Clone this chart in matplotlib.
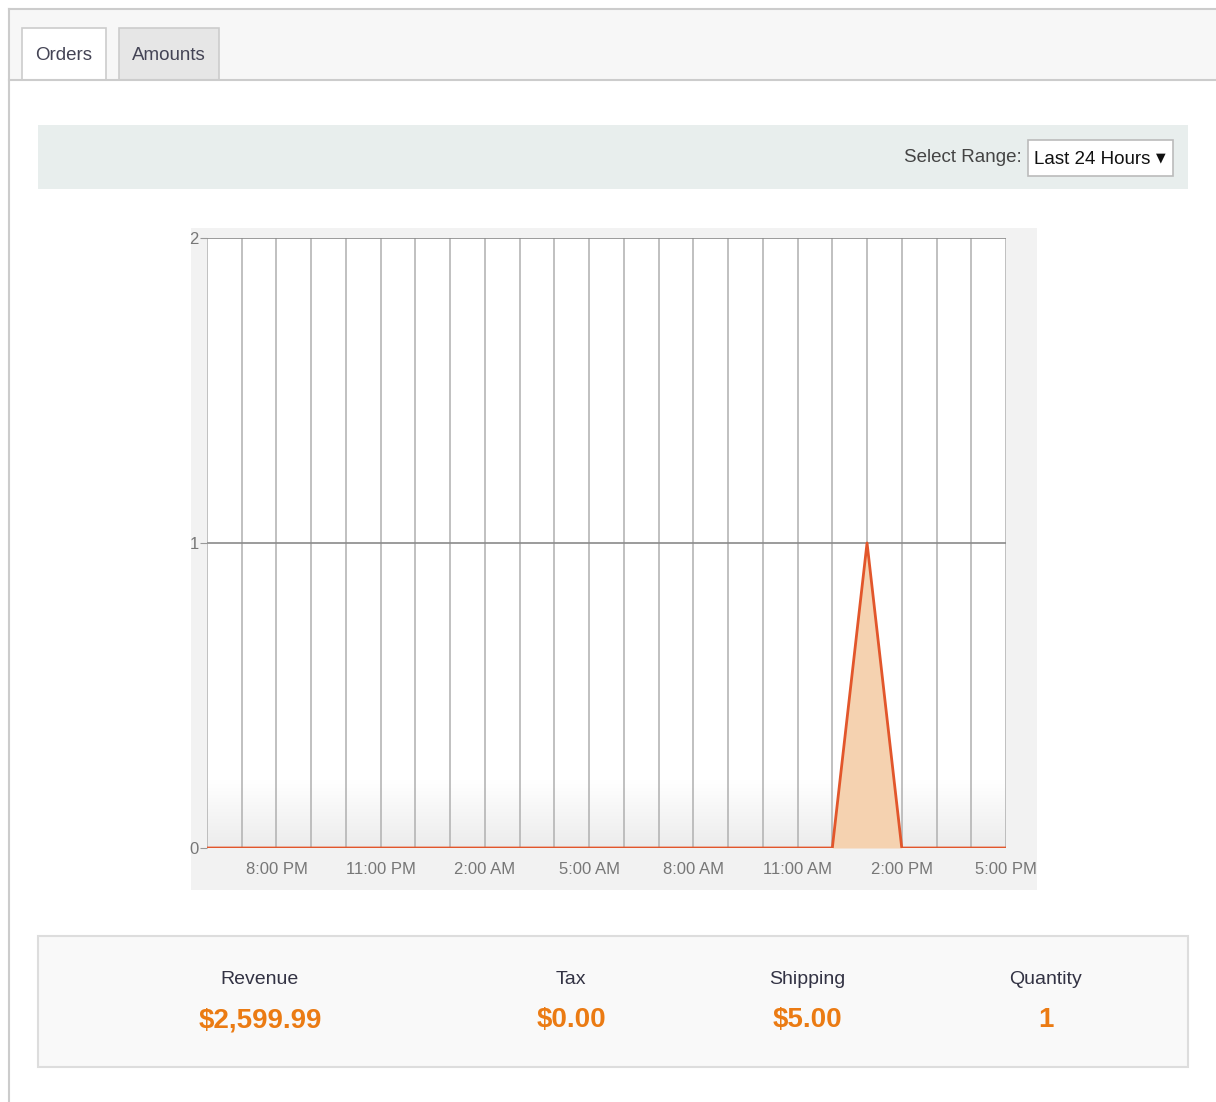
import matplotlib
matplotlib.use("Agg")
import matplotlib.pyplot as plt
from matplotlib.patches import Rectangle
import numpy as np

plt.rcParams['font.family'] = ['Liberation Sans Narrow', 'Liberation Sans', 'DejaVu Sans']

# ---- data ----
hour_labels = ["6:00 PM", "7:00 PM", "8:00 PM", "9:00 PM", "10:00 PM", "11:00 PM",
               "12:00 AM", "1:00 AM", "2:00 AM", "3:00 AM", "4:00 AM", "5:00 AM",
               "6:00 AM", "7:00 AM", "8:00 AM", "9:00 AM", "10:00 AM", "11:00 AM",
               "12:00 PM", "1:00 PM", "2:00 PM", "3:00 PM", "4:00 PM", "5:00 PM"]
orders = [0, 0, 0, 0, 0, 0, 0, 0, 0, 0, 0, 0,
          0, 0, 0, 0, 0, 0, 0, 1, 0, 0, 0, 0]
shown_tick_idx = [2, 5, 8, 11, 14, 17, 20, 23]
y_ticks = [0, 1, 2]
tabs = ["Orders", "Amounts"]
stat_names = ["Revenue", "Tax", "Shipping", "Quantity"]
stat_values = ["$2,599.99", "$0.00", "$5.00", "1"]

W, H = 1216, 1102
fig = plt.figure(figsize=(W / 100, H / 100), dpi=100)
fig.patch.set_facecolor("white")

# background axes in pixel coordinates
bg = fig.add_axes([0, 0, 1, 1])
bg.set_xlim(0, W)
bg.set_ylim(H, 0)
bg.axis("off")

# outer panel
bg.add_patch(Rectangle((9, 9), W, 71, facecolor="#f7f7f7", edgecolor="none"))
bg.plot([9, W], [9, 9], color="#cccccc", lw=1.5)
bg.plot([9, 9], [9, H], color="#cccccc", lw=1.5)
bg.plot([9, W], [80, 80], color="#cccccc", lw=1.5)
# tabs
bg.add_patch(Rectangle((22, 28), 84, 52, facecolor="white", edgecolor="#cccccc", lw=1.2))
bg.add_patch(Rectangle((22.8, 78), 82.4, 4, facecolor="white", edgecolor="none"))
bg.add_patch(Rectangle((119, 28), 100, 52, facecolor="#e6e6e6", edgecolor="#cccccc", lw=1.2))
bg.text(64, 55, tabs[0], ha="center", va="center", fontsize=13.5, color="#444455")
bg.text(169, 55, tabs[1], ha="center", va="center", fontsize=13.5, color="#444455")

# select range bar
bg.add_patch(Rectangle((38, 125), 1150, 64, facecolor="#e8eeed", edgecolor="none"))
bg.text(1022, 158, "Select Range:", ha="right", va="center", fontsize=13.5, color="#444444")
bg.add_patch(Rectangle((1028, 140), 145, 36, facecolor="white", edgecolor="#bbbbbb", lw=1.2))
bg.text(1034, 159, "Last 24 Hours", ha="left", va="center", fontsize=13.5, color="#111111")
bg.text(1161, 158, "\u25BC", ha="center", va="center", fontsize=9, color="#111111",
        family=["DejaVu Sans"])

# chart panel background
bg.add_patch(Rectangle((191, 228), 846, 662, facecolor="#f2f2f2", edgecolor="none"))

# stats box
bg.add_patch(Rectangle((38, 936), 1150, 131, facecolor="#f9f9f9", edgecolor="#dddddd", lw=1.5))
stat_x = [260, 571, 807, 1046]
for sx, name, val in zip(stat_x, stat_names, stat_values):
    bg.text(sx, 980, name, ha="center", va="center", fontsize=14, color="#333344")
    bg.text(sx, 1020, val, ha="center", va="center", fontsize=20, color="#eb7b13",
            fontweight="bold")

# chart axes
x0, x1, ytop, ybot = 207, 1006, 238, 848
ax = fig.add_axes([x0 / W, (H - ybot) / H, (x1 - x0) / W, (ybot - ytop) / H])
ax.set_facecolor("white")
n = len(orders)
x = np.arange(n)
ax.set_xlim(0, n - 1)
ax.set_ylim(0, 2)

# bottom gradient
grad = np.linspace(0, 1, 100).reshape(-1, 1)
ax.imshow(grad, extent=(0, n - 1, 0, 0.22), aspect="auto", origin="upper",
          cmap=matplotlib.colors.LinearSegmentedColormap.from_list("g", ["#ffffff", "#ececec"]),
          zorder=0)

for xi in x:
    ax.axvline(xi, color="#b5b5b5", lw=1.2, zorder=1)
for yv in y_ticks:
    ax.axhline(yv, color="#8a8a8a", lw=1.2, zorder=1)

ax.fill_between(x, orders, 0, color="#f5d2b0", zorder=2, lw=0)
ax.plot(x, orders, color="#e2562b", lw=2, zorder=3)

for s in ax.spines.values():
    s.set_visible(False)
ax.set_yticks(y_ticks)
ax.set_yticklabels([str(v) for v in y_ticks])
ax.set_xticks(shown_tick_idx)
ax.set_xticklabels([hour_labels[i] for i in shown_tick_idx])
ax.tick_params(axis="y", length=5, color="#999999", labelcolor="#777777", labelsize=12, pad=1)
ax.tick_params(axis="x", length=0, labelcolor="#777777", labelsize=12, pad=10)

fig.savefig("out.png", dpi=100, facecolor="white")
